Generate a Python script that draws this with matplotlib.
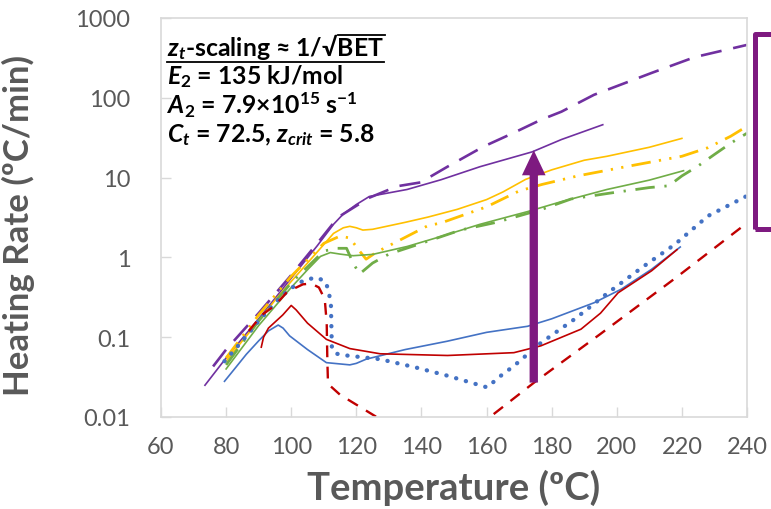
import matplotlib
matplotlib.use("Agg")
import matplotlib.pyplot as plt
import numpy as np
from matplotlib.patches import Rectangle
from matplotlib.lines import Line2D

plt.rcParams['font.family'] = ['Lato', 'DejaVu Sans']
plt.rcParams['mathtext.fontset'] = 'custom'
plt.rcParams['mathtext.rm'] = 'Lato:bold'
plt.rcParams['mathtext.it'] = 'Lato:italic:bold'
plt.rcParams['mathtext.bf'] = 'Lato:bold'
plt.rcParams['mathtext.fallback'] = 'stix'

nan = np.nan

# ---- data (temperature in C, heating rate in C/min) ----
purple_solid_t = [73.5, 80, 90, 100, 108, 113, 116, 120, 124, 135.6, 146, 158, 174, 183, 195.7]
purple_solid_r = [0.025, 0.055, 0.17, 0.55, 1.4, 2.6, 3.5, 4.6, 5.8, 7.1, 9.4, 13.7, 21, 30, 46]

purple_dash_t = [76, 80, 90, 100, 108, 113, 115, 124, 132.6, 139.7, 148, 159, 168.4, 176.7, 183, 193, 210.7, 224, 240]
purple_dash_r = [0.043, 0.07, 0.2, 0.6, 1.5, 2.7, 3.3, 5.6, 7.8, 8.7, 13.7, 24.4, 36.5, 53, 67, 109, 205, 324, 460]

yellow_solid_t = [80, 85, 90, 95, 100, 105, 110, 113, 116, 118, 120, 122, 125, 135, 142, 151, 160, 165, 172, 180, 190, 197, 210, 220]
yellow_solid_r = [0.05, 0.09, 0.16, 0.29, 0.5, 0.85, 1.45, 2.0, 2.35, 2.45, 2.35, 2.2, 2.25, 2.75, 3.2, 4.0, 5.3, 6.6, 9.5, 12.5, 16.5, 18.5, 24, 31]

yellow_ddd_t = [80, 90, 100, 110, 115, 118, 121, 123, 126, 130, 142, 146, 160, 170, 177, 188, 204, 220, 228, 235, 240]
yellow_ddd_r = [0.055, 0.19, 0.58, 1.5, 1.85, 1.75, 1.2, 0.95, 1.15, 1.4, 2.5, 2.7, 4.3, 6.8, 8.2, 10.5, 14, 18.5, 23.7, 33, 44]

green_solid_t = [80, 90, 100, 105, 109, 112, 115, 119, 125, 135.6, 146, 158, 172.7, 183, 197, 210, 220.5]
green_solid_r = [0.04, 0.14, 0.42, 0.7, 1.03, 1.15, 1.1, 1.05, 1.09, 1.37, 1.83, 2.6, 3.76, 5.0, 7.1, 9.3, 12.2]

green_dd_t = [80, 90, 100, 110, 114, 117, 119, 121, 125, 130, 140, 152, 163, 177, 186, 198, 210, 216, 220, 225, 230, 235, 240]
green_dd_r = [0.045, 0.16, 0.48, 1.2, 1.3, 1.3, 0.85, 0.62, 0.85, 1.1, 1.5, 2.2, 2.75, 4.0, 5.4, 6.4, 7.5, 7.9, 10.5, 14, 19.5, 27, 36]

blue_solid_t = [79.5, 83, 86.2, 90, 93, 96, 97.5, 99.5, 105, 110.8, 118, 120, 123, 135, 147.9, 160, 172.6, 180, 193, 201.4, 210.7, 219.5]
blue_solid_r = [0.028, 0.042, 0.061, 0.09, 0.12, 0.142, 0.13, 0.104, 0.07, 0.048, 0.045, 0.047, 0.053, 0.07, 0.089, 0.115, 0.137, 0.17, 0.27, 0.4, 0.71, 1.35]

red_solid_t = [90.8, 91.5, 93, 97.4, 100, 101.5, 105, 110.8, 118, 127.3, 148, 168.4, 176.7, 189, 195, 200.4, 210.7, 218.5]
red_solid_r = [0.075, 0.1, 0.13, 0.19, 0.25, 0.22, 0.15, 0.094, 0.072, 0.062, 0.059, 0.064, 0.078, 0.126, 0.2, 0.36, 0.68, 1.25]

blue_dot_t = [79.5, 85, 90, 95, 99.5, 104, 107.8, 110.5, 111.5, 112.2, 112.4, 112.5, 114, 117, 127.3, 138, 147.9, 160.2, 164, 168.5, 176.7, 187, 197.3, 207.6, 217.8, 228, 240]
blue_dot_r = [0.05, 0.09, 0.16, 0.27, 0.4, 0.52, 0.56, 0.5, 0.38, 0.25, 0.104, 0.071, 0.062, 0.059, 0.053, 0.042, 0.033, 0.0235, 0.032, 0.044, 0.085, 0.168, 0.36, 0.74, 1.45, 3.3, 5.9]

red_dash_t = [87, 91, 95, 98.5, 100.5, 103.6, 106.2, 108.5, 110.3, 110.9, 111.1, 111.3, 115, 127.3, 132, nan, 157, 160.2, 174.6, 195, 218, 240]
red_dash_r = [0.12, 0.19, 0.25, 0.36, 0.4, 0.46, 0.47, 0.42, 0.3, 0.15, 0.05, 0.026, 0.019, 0.0094, 0.0072, nan, 0.0075, 0.0094, 0.027, 0.11, 0.55, 2.7]

arrow_t = 174.5
arrow_from = 0.027
arrow_to = 22

x_ticks = [60, 80, 100, 120, 140, 160, 180, 200, 220, 240]
y_ticks = [0.01, 0.1, 1, 10, 100, 1000]
y_tick_labels = ["0.01", "0.1", "1", "10", "100", "1000"]

purple = "#7030A0"
yellow = "#FFC000"
green = "#70AD47"
blue = "#4472C4"
red = "#C00000"
gray = "#595959"

fig = plt.figure(figsize=(7.71, 5.10), dpi=100)
ax = fig.add_axes([161/771, 1-418/510, 586/771, 399/510])

ax.plot(purple_dash_t, purple_dash_r, color=purple, lw=1.9, dashes=(8, 4.5))
ax.plot(purple_solid_t, purple_solid_r, color=purple, lw=1.2)
ax.plot(yellow_ddd_t, yellow_ddd_r, color=yellow, lw=2.0, dashes=(7, 3, 0.8, 3, 0.8, 3))
ax.plot(yellow_solid_t, yellow_solid_r, color=yellow, lw=1.2)
ax.plot(green_dd_t, green_dd_r, color=green, lw=2.0, dashes=(7, 3.5, 0.8, 3.5))
ax.plot(green_solid_t, green_solid_r, color=green, lw=1.2)
ax.plot(blue_dot_t, blue_dot_r, color=blue, lw=3.1, linestyle=(0, (0.05, 2.3)), dash_capstyle='round')
ax.plot(red_dash_t, red_dash_r, color=red, lw=1.7, dashes=(5, 4))
ax.plot(blue_solid_t, blue_solid_r, color=blue, lw=1.2)
ax.plot(red_solid_t, red_solid_r, color=red, lw=1.2)

# big purple arrow
ax.annotate("", xy=(arrow_t, arrow_to), xytext=(arrow_t, arrow_from),
            arrowprops=dict(arrowstyle="simple,head_width=0.85,head_length=0.9,tail_width=0.3",
                            mutation_scale=20, color="#7E1A80", lw=0, shrinkA=0, shrinkB=0))

ax.set_yscale("log")
ax.set_xlim(60, 240)
ax.set_ylim(0.01, 1000)
ax.set_xticks(x_ticks)
ax.set_xticklabels([str(v) for v in x_ticks])
ax.set_yticks(y_ticks)
ax.set_yticklabels(y_tick_labels)
ax.minorticks_off()
ax.tick_params(axis="both", direction="in", length=7, width=1, color="#D9D9D9",
               labelsize=17, labelcolor=gray)
ax.tick_params(axis="y", pad=22)
ax.tick_params(axis="x", pad=14)
for s in ax.spines.values():
    s.set_color("#D9D9D9")
    s.set_linewidth(1.2)

ax.set_xlabel("Temperature (ºC)", fontsize=27.5, fontweight="bold", color=gray, labelpad=8)
ax.set_ylabel("Heating Rate (ºC/min)", fontsize=25, fontweight="bold", color=gray)
ax.yaxis.set_label_coords(-0.215, (418 - 226) / 399)

# annotation block
tx = (167 - 161) / 586
def ay(py):
    return (418 - py) / 399

fs = 17.8
line1 = r"$z_t$-scaling ≈ 1/√BET"
t1 = ax.text(tx, ay(56), line1, transform=ax.transAxes,
             fontsize=fs, fontweight="bold", va="baseline", ha="left")
ax.text(tx, ay(84.5), r"$E_2$ = 135 kJ/mol", transform=ax.transAxes,
        fontsize=fs, fontweight="bold", va="baseline", ha="left")
ax.text(tx, ay(114), r"$A_2$ = 7.9×10$^{15}$ s$^{-1}$", transform=ax.transAxes,
        fontsize=fs, fontweight="bold", va="baseline", ha="left")
ax.text(tx, ay(142), r"$C_t$ = 72.5, $z_{crit}$ = 5.8", transform=ax.transAxes,
        fontsize=fs, fontweight="bold", va="baseline", ha="left")

# underline of the first line and bar of the radical
t1a = ax.text(tx, ay(56), r"$z_t$-scaling ≈ 1/√", transform=ax.transAxes,
              fontsize=fs, fontweight="bold", va="baseline", ha="left")
fig.canvas.draw()
r = fig.canvas.get_renderer()
bb = t1.get_window_extent(renderer=r)
bba = t1a.get_window_extent(renderer=r)
t1a.remove()
uy = 510 - 62.5
fig.add_artist(Line2D([bb.x0 / 771, bb.x1 / 771], [uy / 510, uy / 510], color="black", lw=1.3))
oy = 510 - 36
fig.add_artist(Line2D([(bba.x1 - 1) / 771, (bb.x1 + 1) / 771], [oy / 510, oy / 510], color="black", lw=1.3))

# purple bracket box on the right (cut by the figure edge)
fig.add_artist(Rectangle((755/771, 1-230/510), 0.1, 195/510, transform=fig.transFigure,
                         fill=False, edgecolor="#7E1A80", lw=3.6, joinstyle="round", clip_on=False))

fig.savefig("out.png", dpi=100)
